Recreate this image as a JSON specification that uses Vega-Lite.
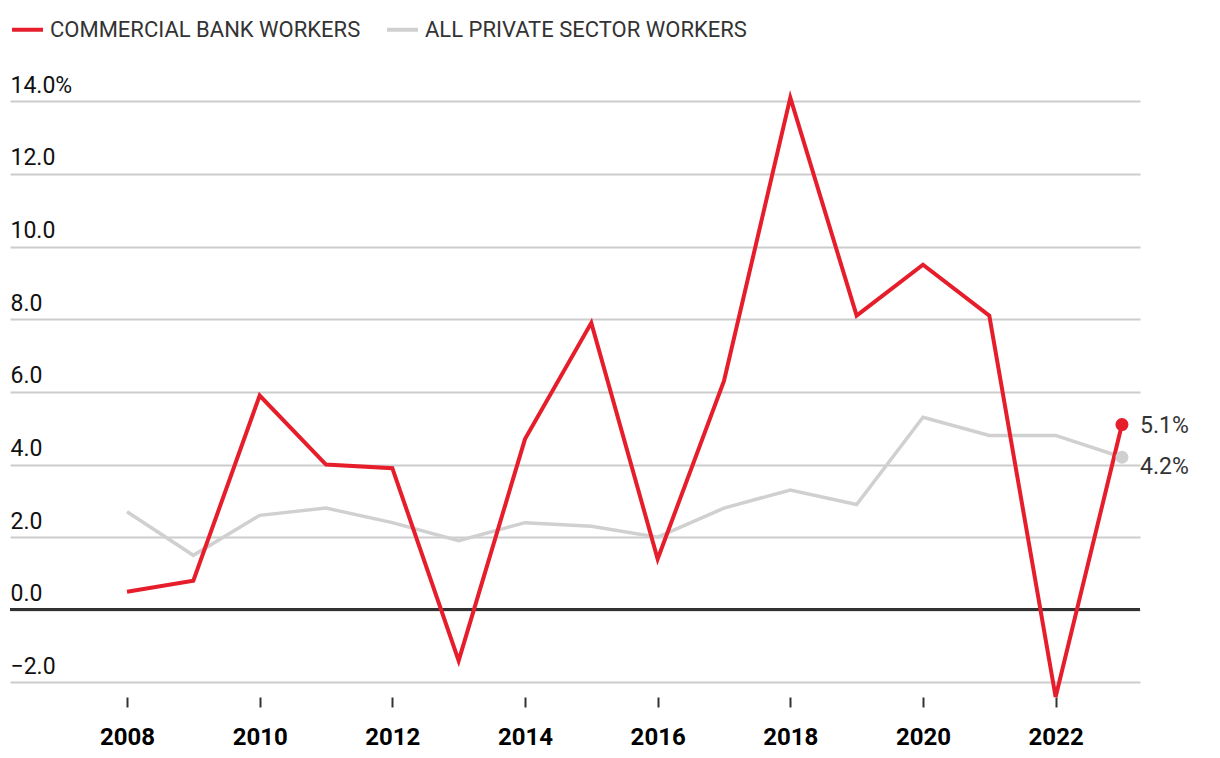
{
  "$schema": "https://vega.github.io/schema/vega-lite/v6.json",
  "width": 1130,
  "height": 603,
  "autosize": {"type": "none"},
  "padding": {"left": 10, "top": 94, "right": 80, "bottom": 61},
  "background": "#ffffff",
  "config": {"font": "Roboto", "view": {"stroke": null}},
  "data": {
    "values": [
      {"year": 2008, "series": "COMMERCIAL BANK WORKERS", "value": 0.5},
      {"year": 2009, "series": "COMMERCIAL BANK WORKERS", "value": 0.8},
      {"year": 2010, "series": "COMMERCIAL BANK WORKERS", "value": 5.9},
      {"year": 2011, "series": "COMMERCIAL BANK WORKERS", "value": 4.0},
      {"year": 2012, "series": "COMMERCIAL BANK WORKERS", "value": 3.9},
      {"year": 2013, "series": "COMMERCIAL BANK WORKERS", "value": -1.4},
      {"year": 2014, "series": "COMMERCIAL BANK WORKERS", "value": 4.7},
      {"year": 2015, "series": "COMMERCIAL BANK WORKERS", "value": 7.9},
      {"year": 2016, "series": "COMMERCIAL BANK WORKERS", "value": 1.4},
      {"year": 2017, "series": "COMMERCIAL BANK WORKERS", "value": 6.3},
      {"year": 2018, "series": "COMMERCIAL BANK WORKERS", "value": 14.1},
      {"year": 2019, "series": "COMMERCIAL BANK WORKERS", "value": 8.1},
      {"year": 2020, "series": "COMMERCIAL BANK WORKERS", "value": 9.5},
      {"year": 2021, "series": "COMMERCIAL BANK WORKERS", "value": 8.1},
      {"year": 2022, "series": "COMMERCIAL BANK WORKERS", "value": -2.4},
      {"year": 2023, "series": "COMMERCIAL BANK WORKERS", "value": 5.1},
      {"year": 2008, "series": "ALL PRIVATE SECTOR WORKERS", "value": 2.7},
      {"year": 2009, "series": "ALL PRIVATE SECTOR WORKERS", "value": 1.5},
      {"year": 2010, "series": "ALL PRIVATE SECTOR WORKERS", "value": 2.6},
      {"year": 2011, "series": "ALL PRIVATE SECTOR WORKERS", "value": 2.8},
      {"year": 2012, "series": "ALL PRIVATE SECTOR WORKERS", "value": 2.4},
      {"year": 2013, "series": "ALL PRIVATE SECTOR WORKERS", "value": 1.9},
      {"year": 2014, "series": "ALL PRIVATE SECTOR WORKERS", "value": 2.4},
      {"year": 2015, "series": "ALL PRIVATE SECTOR WORKERS", "value": 2.3},
      {"year": 2016, "series": "ALL PRIVATE SECTOR WORKERS", "value": 2.0},
      {"year": 2017, "series": "ALL PRIVATE SECTOR WORKERS", "value": 2.8},
      {"year": 2018, "series": "ALL PRIVATE SECTOR WORKERS", "value": 3.3},
      {"year": 2019, "series": "ALL PRIVATE SECTOR WORKERS", "value": 2.9},
      {"year": 2020, "series": "ALL PRIVATE SECTOR WORKERS", "value": 5.3},
      {"year": 2021, "series": "ALL PRIVATE SECTOR WORKERS", "value": 4.8},
      {"year": 2022, "series": "ALL PRIVATE SECTOR WORKERS", "value": 4.8},
      {"year": 2023, "series": "ALL PRIVATE SECTOR WORKERS", "value": 4.2}
    ]
  },
  "encoding": {
    "x": {
      "field": "year",
      "type": "quantitative",
      "scale": {"domain": [2006.236, 2023.272], "nice": false, "zero": false},
      "axis": {
        "title": null,
        "values": [2008, 2010, 2012, 2014, 2016, 2018, 2020, 2022],
        "format": "d",
        "grid": false,
        "domain": false,
        "ticks": true,
        "tickSize": 10,
        "tickWidth": 2,
        "tickColor": "#333333",
        "labelFont": "Roboto",
        "labelFontWeight": "bold",
        "labelFontSize": 24,
        "labelColor": "#000000",
        "labelPadding": 18
      }
    },
    "y": {
      "field": "value",
      "type": "quantitative",
      "scale": {"domain": [-2.4, 14.2], "nice": false, "zero": false},
      "axis": {
        "title": null,
        "values": [-2, 0, 2, 4, 6, 8, 10, 12, 14],
        "labelExpr": "datum.value == 14 ? format(datum.value, '.1f') + '%' : replace(format(datum.value, '.1f'), '-', '\u2212')",
        "grid": true,
        "gridColor": "#cccccc",
        "gridWidth": 2,
        "domain": false,
        "ticks": false,
        "labelAlign": "left",
        "labelBaseline": "alphabetic",
        "labelPadding": 0,
        "labelOffset": -9,
        "labelFont": "Roboto",
        "labelFontSize": 23,
        "labelColor": "#111111"
      }
    },
    "color": {
      "field": "series",
      "type": "nominal",
      "scale": {
        "domain": ["COMMERCIAL BANK WORKERS", "ALL PRIVATE SECTOR WORKERS"],
        "range": ["#e61e2b", "#d0d0d0"]
      },
      "legend": {
        "title": null,
        "orient": "none",
        "legendX": 0,
        "legendY": -82,
        "direction": "horizontal",
        "symbolType": "stroke",
        "symbolSize": 961,
        "symbolStrokeWidth": 4,
        "labelFont": "Roboto",
        "labelFontSize": 22,
        "labelColor": "#333333",
        "labelOffset": 5,
        "labelLimit": 0,
        "columnPadding": 18
      }
    }
  },
  "layer": [
    {
      "mark": {"type": "rule", "color": "#333333", "strokeWidth": 2},
      "encoding": {"y": {"datum": 0}, "x": {"value": 0}, "x2": {"value": 1130}, "color": {"value": "#333333"}}
    },
    {
      "transform": [{"filter": "datum.series == 'ALL PRIVATE SECTOR WORKERS'"}],
      "mark": {"type": "line", "strokeWidth": 3.5}
    },
    {
      "transform": [{"filter": "datum.series == 'COMMERCIAL BANK WORKERS'"}],
      "mark": {"type": "line", "strokeWidth": 4}
    },
    {
      "transform": [{"filter": "datum.year == 2023"}],
      "mark": {"type": "point", "filled": true, "size": 170, "opacity": 1}
    },
    {
      "transform": [{"filter": "datum.year == 2023 && datum.series == 'COMMERCIAL BANK WORKERS'"}],
      "mark": {"type": "text", "align": "left", "baseline": "middle", "dx": 18, "dy": 1, "fontSize": 23, "font": "Roboto", "color": "#333333", "text": {"expr": "format(datum.value, '.1f') + '%'"}},
      "encoding": {"color": {"value": "#333333"}}
    },
    {
      "transform": [{"filter": "datum.year == 2023 && datum.series == 'ALL PRIVATE SECTOR WORKERS'"}],
      "mark": {"type": "text", "align": "left", "baseline": "middle", "dx": 18, "dy": 10, "fontSize": 23, "font": "Roboto", "color": "#333333", "text": {"expr": "format(datum.value, '.1f') + '%'"}},
      "encoding": {"color": {"value": "#333333"}}
    }
  ]
}
